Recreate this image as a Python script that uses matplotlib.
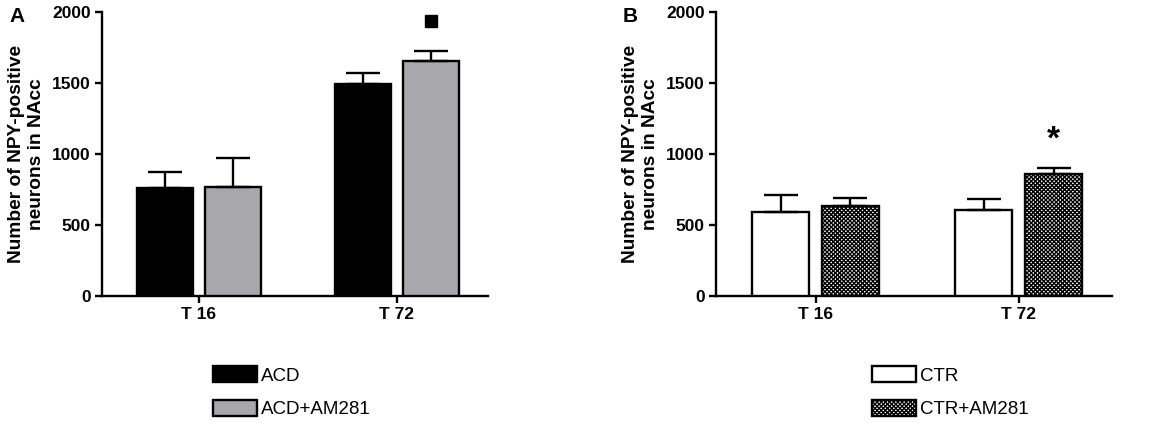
import numpy as np
import matplotlib
matplotlib.use("Agg")
import matplotlib.pyplot as plt

plt.rcParams['font.family'] = ['Liberation Sans', 'DejaVu Sans']
plt.rcParams['hatch.linewidth'] = 1.0

groups = ["T 16", "T 72"]

acd_mean = [760, 1490]
acd_err = [113, 78]
acd_am_mean = [770, 1657]
acd_am_err = [200, 70]

ctr_mean = [594, 606]
ctr_err = [117, 75]
ctr_am_mean = [636, 859]
ctr_am_err = [54, 40]

square_pos = (1, 1936)   # marker above ACD+AM281 at T 72
star_pos = (1, 1100)     # asterisk above CTR+AM281 at T 72

ylabel = "Number of NPY-positive\nneurons in NAcc"

x = np.arange(len(groups))
w = 0.28
off = 0.172

fig = plt.figure(figsize=(11.58, 4.24), dpi=100)
axA = fig.add_axes([102 / 1158, 1 - 296 / 424, 386 / 1158, 284 / 424])
axB = fig.add_axes([716 / 1158, 1 - 296 / 424, 396 / 1158, 284 / 424])

err_kw = dict(ecolor="black", elinewidth=1.7, capsize=12, capthick=1.7)


def one_side(err):
    return [np.zeros(len(err)), err]


b1 = axA.bar(x - off, acd_mean, w, color="black", edgecolor="black", linewidth=1.7,
             yerr=one_side(acd_err), error_kw=err_kw, label="ACD", zorder=3)
b2 = axA.bar(x + off, acd_am_mean, w, color="#a8a7ac", edgecolor="black", linewidth=1.7,
             yerr=one_side(acd_am_err), error_kw=err_kw, label="ACD+AM281", zorder=3)
axA.plot(square_pos[0] + off, square_pos[1], marker="s", color="black",
         markersize=9, linestyle="none", zorder=4)

b3 = axB.bar(x - off, ctr_mean, w, color="white", edgecolor="black", linewidth=1.7,
             yerr=one_side(ctr_err), error_kw=err_kw, label="CTR", zorder=3)
b4 = axB.bar(x + off, ctr_am_mean, w, color="white", edgecolor="black", linewidth=1.7,
             hatch="xxxxxxxx", yerr=one_side(ctr_am_err), error_kw=err_kw,
             label="CTR+AM281", zorder=3)
axB.text(star_pos[0] + off, star_pos[1], "*", ha="center", va="center",
         fontsize=24, fontweight="bold")

for ax in (axA, axB):
    ax.set_ylim(0, 2000)
    ax.set_xlim(-0.49, 1.46)
    ax.set_yticks([0, 500, 1000, 1500, 2000])
    ax.set_xticks(x)
    ax.set_xticklabels(groups)
    for lab in ax.get_xticklabels() + ax.get_yticklabels():
        lab.set_fontweight("bold")
        lab.set_fontsize(12.5)
    ax.spines["top"].set_visible(False)
    ax.spines["right"].set_visible(False)
    for s in ("left", "bottom"):
        ax.spines[s].set_linewidth(1.7)
    ax.tick_params(axis="both", length=5, width=1.7, pad=3)
    ax.set_ylabel(ylabel, fontsize=13.8, fontweight="bold", labelpad=5,
                  linespacing=1.25)

fig.text(9 / 1158, 1 - 17 / 424, "A", fontsize=15, fontweight="bold", va="center")
fig.text(623 / 1158, 1 - 17 / 424, "B", fontsize=15, fontweight="bold", va="center")

leg_font = {"size": 13.5}
legA = fig.legend(handles=[b1, b2], loc="upper left",
                  bbox_to_anchor=(213 / 1158, 1 - 366 / 424), frameon=False,
                  prop=leg_font, handlelength=2.35, handleheight=0.95,
                  handletextpad=0.2, labelspacing=0.8, borderpad=0, borderaxespad=0)
legB = fig.legend(handles=[b3, b4], loc="upper left",
                  bbox_to_anchor=(872 / 1158, 1 - 366 / 424), frameon=False,
                  prop=leg_font, handlelength=2.35, handleheight=0.95,
                  handletextpad=0.2, labelspacing=0.8, borderpad=0, borderaxespad=0)

fig.savefig("out.png", dpi=100)
